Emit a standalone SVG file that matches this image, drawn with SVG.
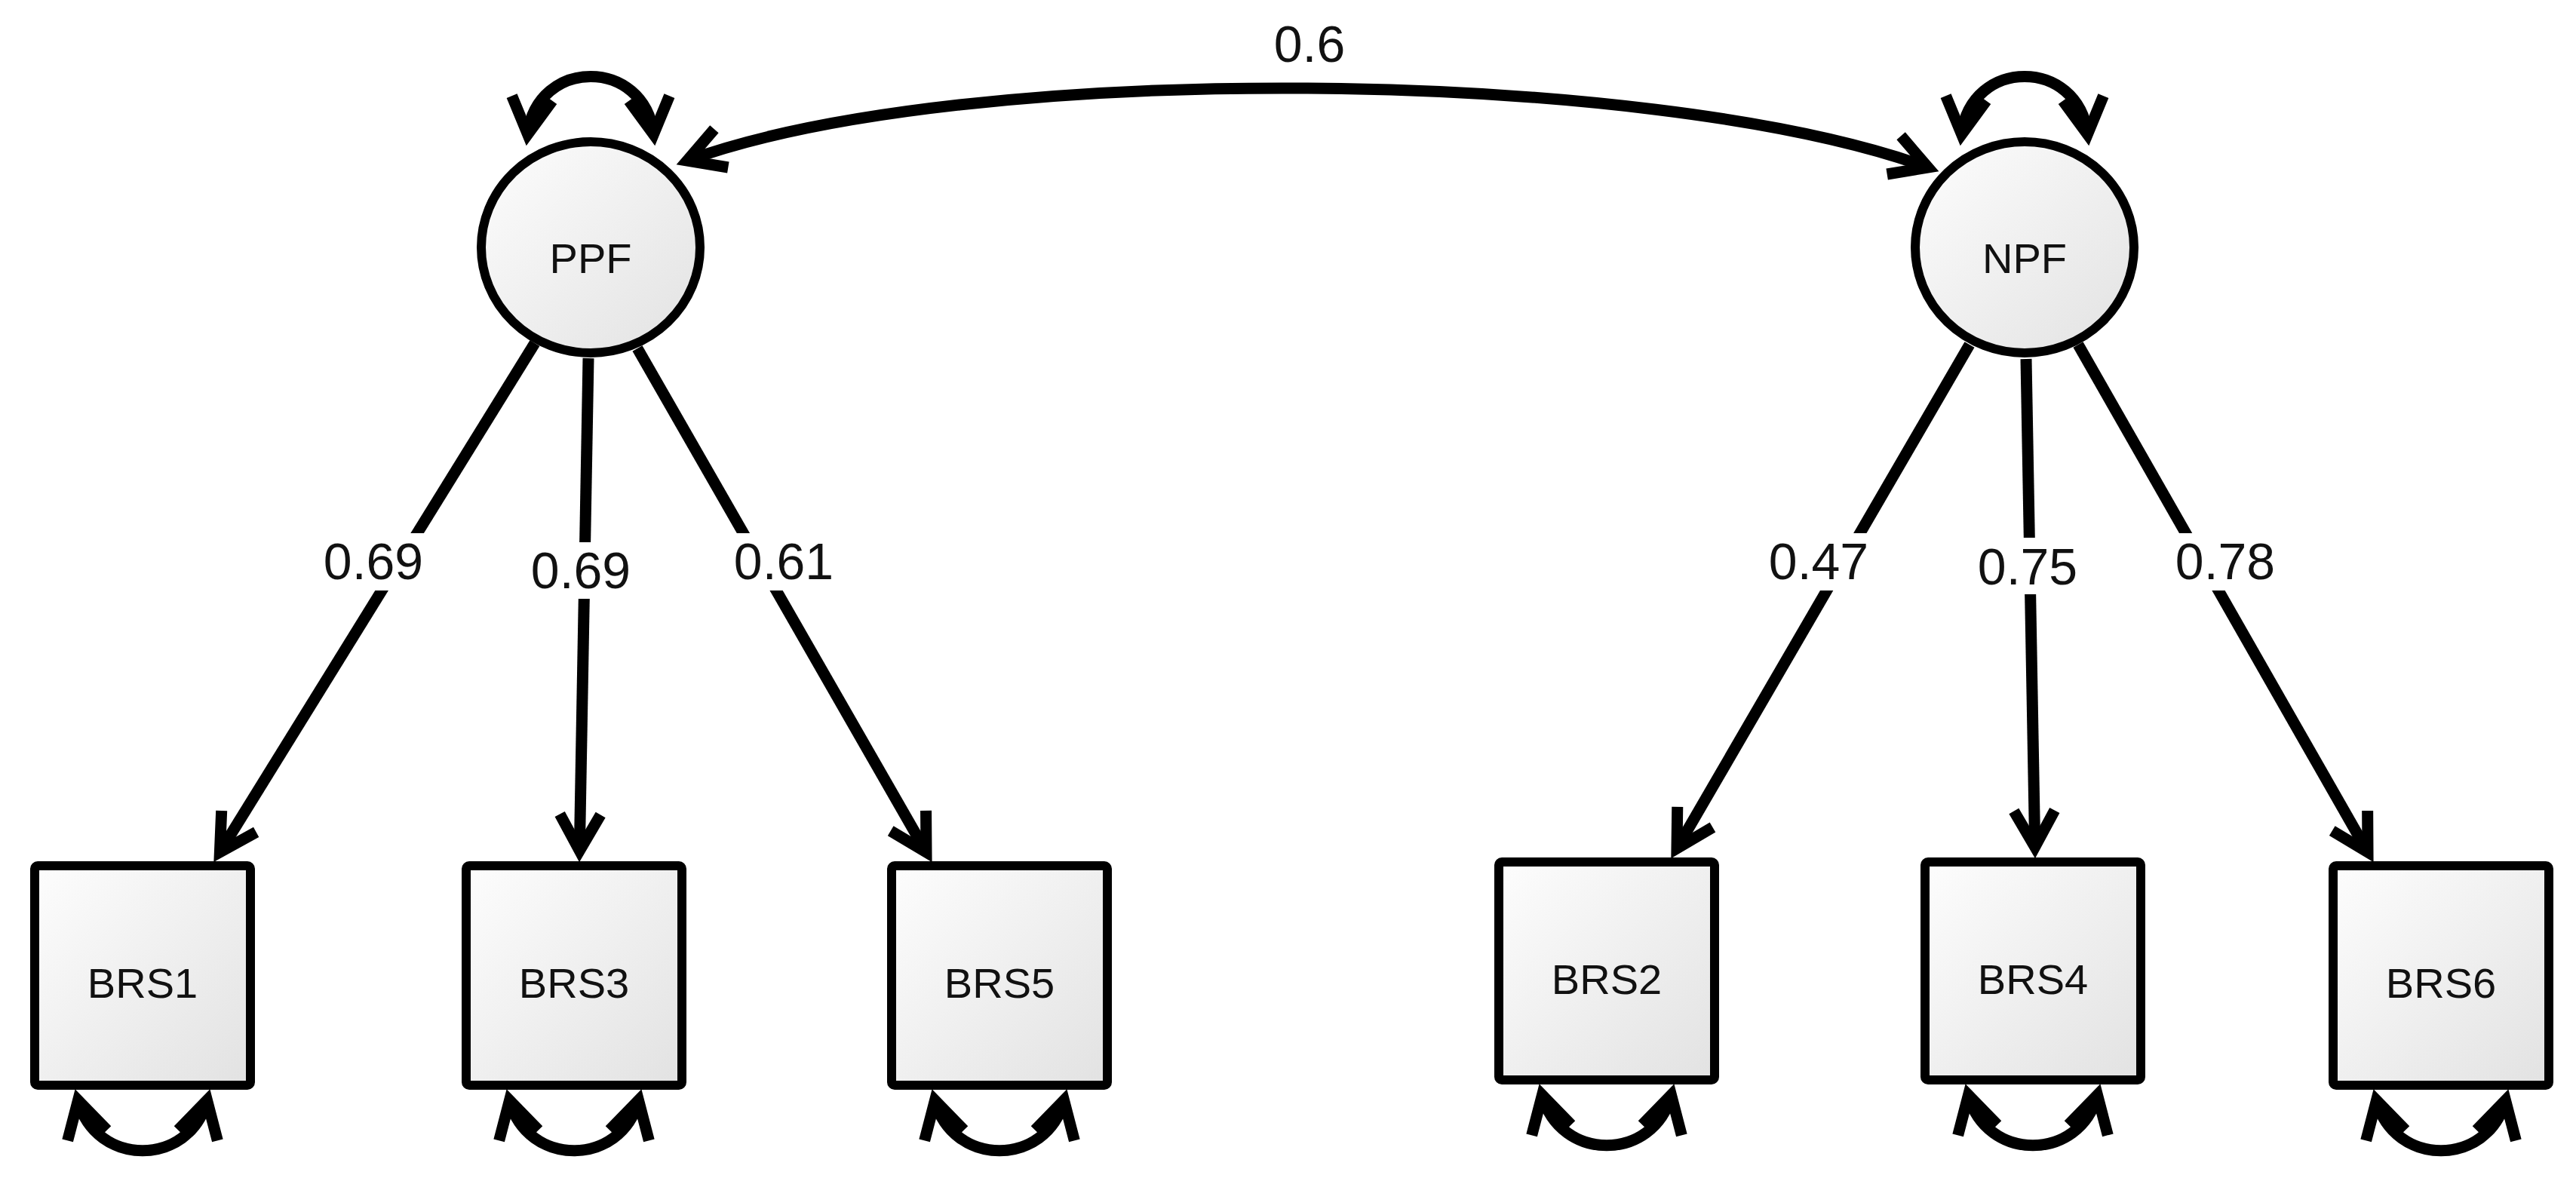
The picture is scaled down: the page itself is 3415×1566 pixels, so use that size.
<svg xmlns="http://www.w3.org/2000/svg" width="3415" height="1566" viewBox="0 0 3415 1566">
<style>
.node{fill:url(#g);stroke:#000;stroke-width:12}
.nt{font-family:"Liberation Sans",Arial,sans-serif;font-size:56px;fill:#111;text-anchor:middle}
.lt{font-family:"Liberation Sans",Arial,sans-serif;font-size:68px;fill:#111;text-anchor:middle}
.c{fill:none;stroke:#000;stroke-width:15;marker-end:url(#ah)}
.cc{fill:none;stroke:#000;stroke-width:15;marker-start:url(#ah);marker-end:url(#ah)}
.bg{fill:#fff}
</style>
<defs>
<linearGradient id="g" x1="0" y1="0" x2="1" y2="1">
<stop offset="0" stop-color="#fdfdfd"/>
<stop offset="1" stop-color="#e2e2e2"/>
</linearGradient>
<marker id="ah" markerUnits="userSpaceOnUse" viewBox="-70 -40 80 80" markerWidth="80" markerHeight="80" refX="0" refY="0" orient="auto-start-reverse" overflow="visible">
<path d="M-48,-27 L0,0 L-48,27" fill="none" stroke="#000" stroke-width="15" stroke-linejoin="miter" stroke-miterlimit="10"/>
</marker>
</defs>
<rect width="3415" height="1566" fill="#fff"/>

<g id="PPF">
<ellipse class="node" cx="783" cy="328" rx="145" ry="140"/>
<text class="nt" x="783" y="362">PPF</text>
</g>
<g id="NPF">
<ellipse class="node" cx="2684" cy="328" rx="145" ry="140"/>
<text class="nt" x="2684" y="362">NPF</text>
</g>
<g id="BRS1">
<rect class="node" x="46" y="1148" width="286" height="291" rx="4"/>
<text class="nt" x="189" y="1323">BRS1</text>
</g>
<g id="BRS3">
<rect class="node" x="618" y="1148" width="286" height="291" rx="4"/>
<text class="nt" x="761" y="1323">BRS3</text>
</g>
<g id="BRS5">
<rect class="node" x="1182" y="1148" width="286" height="291" rx="4"/>
<text class="nt" x="1325" y="1323">BRS5</text>
</g>
<g id="BRS2">
<rect class="node" x="1987" y="1143" width="286" height="289" rx="4"/>
<text class="nt" x="2130" y="1318">BRS2</text>
</g>
<g id="BRS4">
<rect class="node" x="2552" y="1143" width="286" height="289" rx="4"/>
<text class="nt" x="2695" y="1318">BRS4</text>
</g>
<g id="BRS6">
<rect class="node" x="3093" y="1148" width="286" height="291" rx="4"/>
<text class="nt" x="3236" y="1323">BRS6</text>
</g>

<g id="connectors">
<!-- covariance PPF <-> NPF -->
<path class="cc" d="M911,213 C1280,79 2187,88 2556,222"/>
<!-- variances of latent factors -->
<path class="cc" d="M699.6,178 C712,76 854,76 866.4,178"/>
<path class="cc" d="M2600.6,178 C2613,76 2755,76 2767.4,178"/>
<!-- loadings -->
<path class="c" d="M709,455 L291.4,1130"/>
<path class="c" d="M780,475 L768.3,1128"/>
<path class="c" d="M845,462 L1228,1130"/>
<path class="c" d="M2611,457 L2223,1125"/>
<path class="c" d="M2686,476 L2697.7,1123"/>
<path class="c" d="M2755,457 L3139,1130"/>
<!-- residual variances -->
<path class="cc" d="M103.5,1459 C127,1548 251,1548 274.5,1459"/>
<path class="cc" d="M675.5,1459 C699,1548 823,1548 846.5,1459"/>
<path class="cc" d="M1239.5,1459 C1263,1548 1387,1548 1410.5,1459"/>
<path class="cc" d="M2044.5,1452 C2068,1541 2192,1541 2215.5,1452"/>
<path class="cc" d="M2609.5,1452 C2633,1541 2757,1541 2780.5,1452"/>
<path class="cc" d="M3150.5,1459 C3174,1548 3298,1548 3321.5,1459"/>
<!-- labels -->
<text class="lt" x="1736" y="82">0.6</text>
<rect class="bg" x="425" y="707" width="140" height="76"/>
<text class="lt" x="495" y="768">0.69</text>
<rect class="bg" x="700" y="719" width="140" height="75"/>
<text class="lt" x="770" y="780">0.69</text>
<rect class="bg" x="969" y="707" width="140" height="76"/>
<text class="lt" x="1039" y="768">0.61</text>
<rect class="bg" x="2341" y="707" width="140" height="76"/>
<text class="lt" x="2411" y="768">0.47</text>
<rect class="bg" x="2618" y="713" width="140" height="75"/>
<text class="lt" x="2688" y="775">0.75</text>
<rect class="bg" x="2880" y="707" width="140" height="76"/>
<text class="lt" x="2950" y="768">0.78</text>
</g>
</svg>
